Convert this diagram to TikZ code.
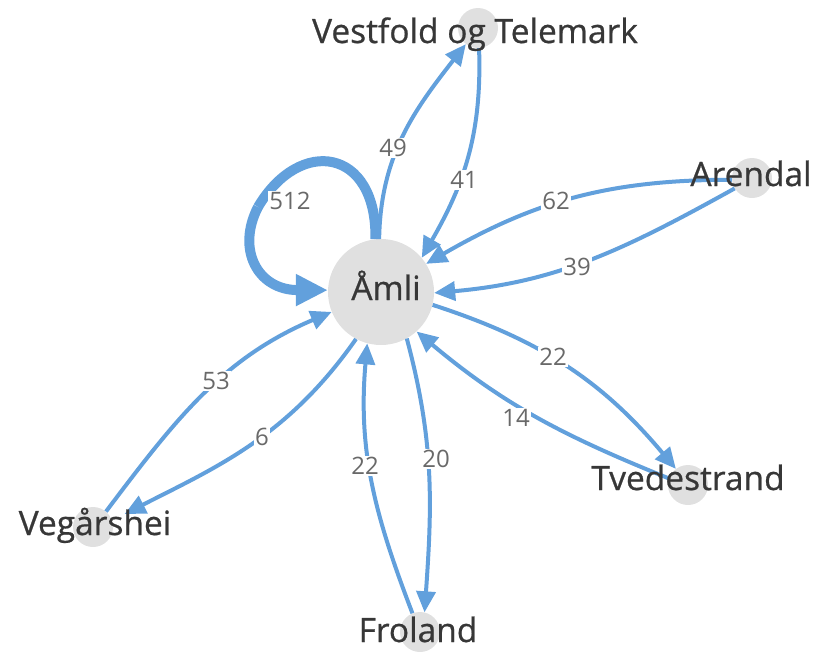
\documentclass[tikz,border=0pt]{standalone}
\usepackage{fontspec}
\setmainfont{Open Sans}
\newfontfamily\namefont[FakeBold=0.7]{Open Sans}
\usetikzlibrary{arrows.meta}
\definecolor{edgeblue}{RGB}{98,160,220}
\definecolor{circgray}{RGB}{224,224,224}
\definecolor{labdark}{RGB}{55,55,55}
\definecolor{numgray}{RGB}{105,105,105}
\begin{document}
\begin{tikzpicture}[x=1pt,y=-1pt,
  bignode/.style={circle,fill=circgray,minimum size=106pt,inner sep=0pt},
  smallnode/.style={circle,fill=circgray,minimum size=40pt,inner sep=0pt},
  nametext/.style={text=labdark,font=\namefont\fontsize{33.5}{36}\selectfont,inner sep=0pt,anchor=base},
  edge/.style={draw=edgeblue,line width=4pt,-{Triangle[length=21pt,width=19pt]}},
  numlab/.style={fill=white,text=numgray,font=\fontsize{24}{26}\selectfont,inner sep=1pt}
]
\useasboundingbox (0,0) rectangle (819,651);
% circles
\node[bignode] (amli) at (381,292) {};
\node[smallnode] (vt) at (478,28) {};
\node[smallnode] (arendal) at (752,178) {};
\node[smallnode] (tved) at (688,485) {};
\node[smallnode] (froland) at (420,632) {};
\node[smallnode] (veg) at (93,527) {};
% self loop
\coordinate (loopmid) at (258,207);
\draw[draw=edgeblue,line width=10pt] (amli.96) .. controls (377,148) and (300,136) .. (loopmid);
\draw[draw=edgeblue,line width=10pt,-{Triangle[length=32pt,width=30pt]}] (loopmid) .. controls (236,250) and (258,290) .. (amli.178);
% edges
\draw[edge] (amli.92) to[out=89,in=232] (vt.-127);
\draw[edge] (vt.-87) to[out=-88,in=60] (amli.40);
\draw[edge] (arendal.185) to[out=180,in=30] (amli.32);
\draw[edge] (arendal.211) to[out=209,in=5] (amli.-1);
\draw[edge] (amli.-14) to[out=-18,in=130] (tved.127);
\draw[edge] (tved.161) to[out=158,in=-40] (amli.-48);
\draw[edge] (amli.-61) to[out=-75,in=86] (froland.77);
\draw[edge] (froland.112) to[out=111,in=-95] (amli.-105);
\draw[edge] (veg.50) to[out=53,in=203] (amli.-158);
\draw[edge,shorten >=14pt] (amli.-118) to[out=235,in=27] (veg.19);
% number labels
\node[numlab] (n512) at (290,201) {512};
\node[numlab] (n49) at (393,148) {49};
\node[numlab] (n41) at (464,180) {41};
\node[numlab] (n62) at (556,201) {62};
\node[numlab] (n39) at (577,267) {39};
\node[numlab] (n22a) at (553,357) {22};
\node[numlab] (n14) at (516,418) {14};
\node[numlab] (n20) at (436,459) {20};
\node[numlab] (n22b) at (365,466) {22};
\node[numlab] (n53) at (216,381) {53};
\node[numlab] (n6) at (262,437) {6};
% names
\node[nametext] (tamli) at (386,300) {Åmli};
\node[nametext] (tvt) at (475,43) {Vestfold og Telemark};
\node[nametext] (tarendal) at (751,186) {Arendal};
\node[nametext] (ttved) at (688,490) {Tvedestrand};
\node[nametext] (tfroland) at (418,642) {Froland};
\node[nametext] (tveg) at (95,535) {Vegårshei};
\end{tikzpicture}
\end{document}
